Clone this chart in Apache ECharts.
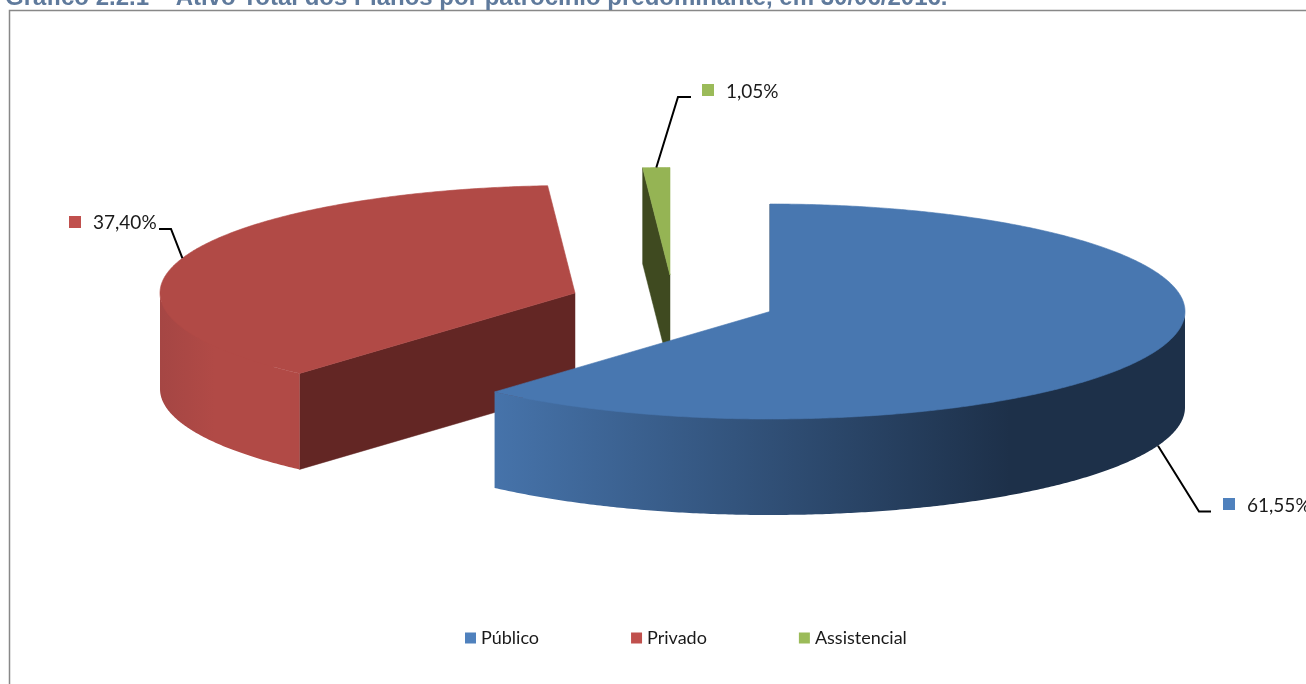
<!DOCTYPE html>
<html>
<head>
<meta charset="utf-8">
<style>html,body{margin:0;padding:0;background:#fff;overflow:hidden}#c{width:1306px;height:684px}</style>
<script src="https://cdn.jsdelivr.net/npm/echarts@6/dist/echarts.min.js"></script>
</head>
<body>
<div id="c"></div>
<script>
const titleText = 'Gráfico 2.2.1 – Ativo Total dos Planos por patrocínio predominante, em 30/06/2016.';
const categories = ['Público', 'Privado', 'Assistencial'];
const shares = [61.55, 37.40, 1.05];

// Presentation only
const legendColors = ['#4f81bd', '#c0504d', '#9bbb59'];
const topColors = ['#4877b0', '#b14a46', '#95b454'];
const cutColors = ['#1d3049', '#632624', '#3f4a20'];
const RX = 415, RY = 107.5, DEPTH = 96;
const apexes = [[770, 311.5], [575, 293], [670, 275]];
const wallFills = [
  { x: 495, x2: 1010, stops: ['#4673aa', '#1d3049'] },
  { x: 160, x2: 215, stops: ['#a54644', '#b14a46'] },
  { x: 640, x2: 670, stops: ['#95b454', '#95b454'] }
];
const leaders = [
  { elbow: [1199, 511.5], end: [1211, 511.5], box: [1223, 498], text: [1247, 505.5] },
  { elbow: [171, 229], end: [159, 229], box: [69, 216], text: [93, 222.5] },
  { elbow: [678, 97], end: [691, 97], box: [702, 84], text: [726, 91.5] }
];
const seriesZ = [3, 1, 2];
const total = shares.reduce((a, b) => a + b, 0);

function rim(apex, deg, drop) {
  const r = deg * Math.PI / 180;
  return [apex[0] + RX * Math.sin(r), apex[1] - RY * Math.cos(r) + (drop || 0)];
}
function arc(apex, from, to, drop) {
  const pts = [];
  const n = Math.max(2, Math.ceil(Math.abs(to - from) * 2));
  for (let i = 0; i <= n; i++) pts.push(rim(apex, from + (to - from) * i / n, drop));
  return pts;
}
function renderSlice(i, api) {
  const value = api.value(0);
  const before = shares.slice(0, i).reduce((a, b) => a + b, 0);
  const start = before / total * 360;
  const end = start + value / total * 360;
  const mid = (start + end) / 2;
  const apex = apexes[i];
  const kids = [];

  // cut face at the slice's start edge
  const s = rim(apex, start);
  kids.push({ type: 'polygon', shape: { points: [apex, s, [s[0], s[1] + DEPTH], [apex[0], apex[1] + DEPTH]] },
    style: { fill: cutColors[i], stroke: cutColors[i], lineWidth: 0.5 } });

  // front-facing outer wall, its upper edge tucked a little under the top face
  const a = Math.max(start, 90), b = Math.min(end, 270);
  if (b > a) {
    const w = wallFills[i];
    const upper = arc(apex, a, b, 0).map((p, k, all) =>
      (k > 10 && k < all.length - 11) ? [p[0], p[1] - 3] : p);
    kids.push({ type: 'polygon',
      shape: { points: upper.concat(arc(apex, b, a, DEPTH)) },
      style: { fill: { type: 'linear', x: w.x, y: 0, x2: w.x2, y2: 0, global: true,
        colorStops: [{ offset: 0, color: w.stops[0] }, { offset: 1, color: w.stops[1] }] } } });
  }

  // top face; the hairline stroke closes the anti-aliasing gap along the wall
  kids.push({ type: 'polygon', shape: { points: [apex].concat(arc(apex, start, end, 0)) },
    style: { fill: topColors[i], stroke: topColors[i], lineWidth: 0.6 } });

  // leader and data label
  const L = leaders[i];
  const front = mid > 90 && mid < 270;
  kids.push({ type: 'polyline', shape: { points: [rim(apex, mid, front ? DEPTH : 0), L.elbow, L.end] },
    style: { fill: 'none', stroke: '#000', lineWidth: 2 } });
  kids.push({ type: 'rect', shape: { x: L.box[0], y: L.box[1], width: 12, height: 12 },
    style: { fill: legendColors[i] } });
  kids.push({ type: 'text', style: {
    x: L.text[0], y: L.text[1], text: value.toFixed(2).replace('.', ',') + '%',
    fill: '#1a1a1a', font: '19px Lato', textAlign: 'left', textVerticalAlign: 'middle' } });
  return { type: 'group', children: kids };
}

const chart = echarts.init(document.getElementById('c'), null, { renderer: 'canvas' });
chart.setOption({
  animation: false,
  backgroundColor: '#fff',
  title: { text: titleText, left: 5, top: -14, padding: 0,
    textStyle: { fontFamily: 'Liberation Sans', fontWeight: 'bold', fontSize: 24, color: '#5f7a9c' } },
  legend: {
    data: categories, left: 465, top: 629, padding: 0, icon: 'rect', itemWidth: 11, itemHeight: 11, itemGap: 92,
    textStyle: { fontFamily: 'Lato', fontSize: 18, color: '#1a1a1a' }
  },
  graphic: [{ type: 'polyline', silent: true, z: 0,
    shape: { points: [[9.5, 700], [9.5, 10.5], [1320, 10.5]] },
    style: { fill: 'none', stroke: '#888', lineWidth: 1.5 } }],
  series: categories.map((name, i) => ({
    name, type: 'custom', coordinateSystem: 'none', z: seriesZ[i],
    itemStyle: { color: legendColors[i] },
    data: [[shares[i]]],
    renderItem: (p, api) => renderSlice(i, api)
  }))
});
</script>
</body>
</html>
